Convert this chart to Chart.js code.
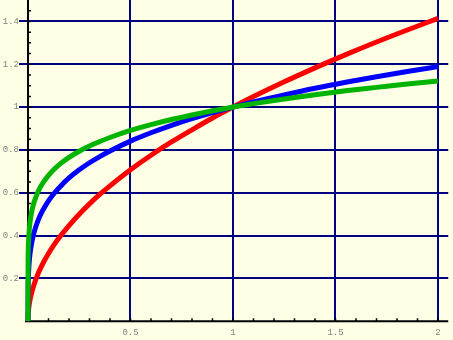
<!DOCTYPE html>
<html>
<head>
<meta charset="utf-8">
<script src="https://cdn.jsdelivr.net/npm/chart.js@4/dist/chart.umd.min.js"></script>
<style>
html,body{margin:0;padding:0;background:#FFFFE6;}
</style>
</head>
<body>
<canvas id="c" width="453" height="340"></canvas>
<script>
// sample x positions
const xs = [0, 0.0005, 0.002, 0.005, 0.01, 0.02, 0.03, 0.05, 0.07, 0.1, 0.13, 0.16, 0.2, 0.25, 0.3, 0.35, 0.4, 0.5, 0.6, 0.7, 0.8, 0.9, 1, 1.1, 1.25, 1.4, 1.55, 1.7, 1.85, 2];
// red curve
const redVals = [0, 0.022, 0.045, 0.071, 0.1, 0.141, 0.173, 0.224, 0.265, 0.316, 0.361, 0.4, 0.447, 0.5, 0.548, 0.592, 0.632, 0.707, 0.775, 0.837, 0.894, 0.949, 1, 1.049, 1.118, 1.183, 1.245, 1.304, 1.360, 1.414];
// blue curve
const blueVals = [0, 0.150, 0.211, 0.266, 0.316, 0.376, 0.416, 0.473, 0.514, 0.562, 0.600, 0.632, 0.669, 0.707, 0.740, 0.769, 0.795, 0.841, 0.880, 0.915, 0.946, 0.974, 1, 1.024, 1.057, 1.088, 1.116, 1.142, 1.166, 1.189];
// green curve
const greenVals = [0, 0.282, 0.355, 0.414, 0.464, 0.521, 0.557, 0.607, 0.642, 0.681, 0.712, 0.737, 0.765, 0.794, 0.818, 0.839, 0.858, 0.891, 0.918, 0.942, 0.963, 0.983, 1, 1.016, 1.038, 1.058, 1.076, 1.092, 1.108, 1.122];
// tick labels
const xTicks = [0.5, 1, 1.5, 2];
const yTicks = [0.2, 0.4, 0.6, 0.8, 1, 1.2, 1.4];

const pts = v => xs.map((x, i) => ({x: x, y: v[i]}));

const bgPlugin = {
  id: 'bg',
  beforeDraw(chart) {
    const ctx = chart.ctx;
    ctx.save();
    ctx.fillStyle = '#FFFFE6';
    ctx.fillRect(0, 0, chart.width, chart.height);
    ctx.restore();
  }
};

const axesPlugin = {
  id: 'axesDraw',
  beforeDatasetsDraw(chart) {
    const ctx = chart.ctx;
    const sx = chart.scales.x, sy = chart.scales.y;
    const x0 = sx.getPixelForValue(0), y0 = sy.getPixelForValue(0);
    ctx.save();
    ctx.strokeStyle = '#000000';
    ctx.lineWidth = 2;
    ctx.beginPath();
    ctx.moveTo(x0 - 3, y0);
    ctx.lineTo(chart.chartArea.right, y0);
    ctx.moveTo(x0, y0);
    ctx.lineTo(x0, 0);
    ctx.stroke();
    ctx.lineWidth = 1.5;
    ctx.beginPath();
    for (let k = 1; k <= 20; k++) {
      const px = sx.getPixelForValue(k / 10);
      ctx.moveTo(px, y0);
      ctx.lineTo(px, y0 - 3);
    }
    for (let k = 1; k <= 29; k++) {
      const py = sy.getPixelForValue(k * 0.05);
      ctx.moveTo(x0, py);
      ctx.lineTo(x0 + 3, py);
    }
    ctx.stroke();
    ctx.restore();
  }
};

const lineDs = (vals, color) => ({
  data: pts(vals),
  borderColor: color,
  backgroundColor: color,
  borderWidth: 5,
  pointRadius: 0,
  fill: false,
  cubicInterpolationMode: 'monotone',
  borderCapStyle: 'butt',
  borderJoinStyle: 'round'
});

const labelFont = {family: 'Liberation Mono', size: 9};

new Chart(document.getElementById('c'), {
  type: 'line',
  data: {
    datasets: [
      lineDs(greenVals, '#00B400'),
      lineDs(blueVals, '#0000FF'),
      lineDs(redVals, '#FF0000')
    ]
  },
  options: {
    responsive: false,
    animation: false,
    events: [],
    layout: {padding: {left: 0, right: 4.75, top: 0, bottom: 0}},
    plugins: {legend: {display: false}, tooltip: {enabled: false}},
    scales: {
      x: {
        type: 'linear',
        min: -0.0439,
        max: 2.05,
        position: 'bottom',
        afterFit: s => { s.height = 18.75; s.paddingLeft = 0; s.paddingRight = 0; },
        afterBuildTicks: s => { s.ticks = xTicks.map(v => ({value: v})); },
        grid: {color: '#000080', lineWidth: 2, drawTicks: false},
        border: {display: false},
        ticks: {
          color: '#808080',
          font: labelFont,
          padding: 6,
          maxRotation: 0,
          autoSkip: false,
          callback: v => String(v)
        }
      },
      y: {
        type: 'linear',
        min: 0,
        max: 1.5,
        position: 'left',
        afterFit: s => { s.width = 19; s.paddingTop = 0; s.paddingBottom = 0; },
        afterBuildTicks: s => { s.ticks = yTicks.map(v => ({value: v})); },
        grid: {color: '#000080', lineWidth: 2, drawTicks: false},
        border: {display: false},
        ticks: {
          color: '#808080',
          font: labelFont,
          padding: 0,
          autoSkip: false,
          callback: v => String(v)
        }
      }
    }
  },
  plugins: [bgPlugin, axesPlugin]
});
</script>
</body>
</html>
